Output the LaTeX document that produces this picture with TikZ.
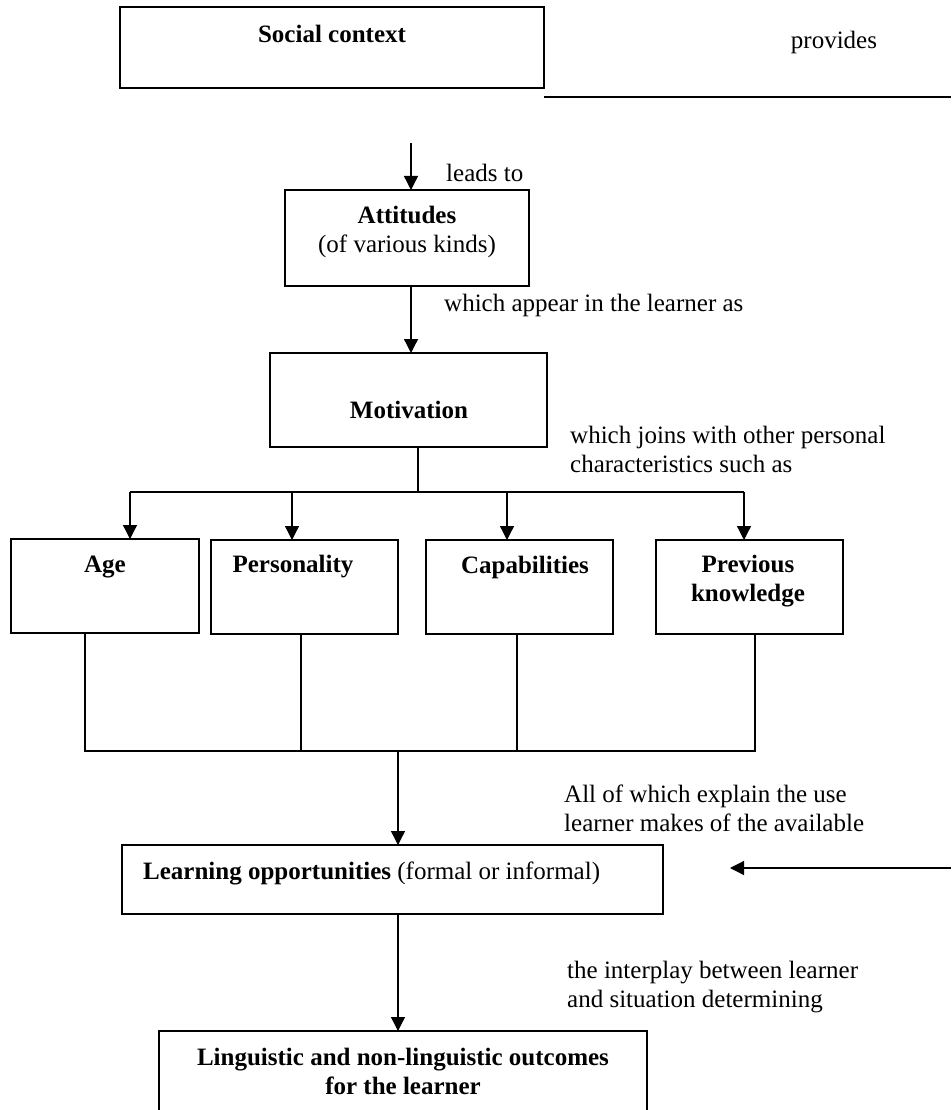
\documentclass[tikz,border=0pt]{standalone}
\usepackage{fontspec}
\setmainfont{Liberation Serif}
\usetikzlibrary{arrows.meta}
\tikzset{
  box/.style={draw, line width=1.3pt, inner sep=0pt, outer sep=0pt, anchor=north west},
  txt/.style={font=\fontsize{25}{29}\selectfont, inner sep=0pt, align=left, anchor=west},
  ctxt/.style={font=\fontsize{25}{29}\selectfont, inner sep=0pt, align=center},
  btxt/.style={font=\fontsize{25}{29}\selectfont\bfseries, inner sep=0pt, align=center},
  arr/.style={-{Triangle[length=14pt,width=14pt]}, line width=1.3pt},
  ln/.style={line width=1.3pt}
}
\begin{document}
\begin{tikzpicture}[x=1pt,y=-1pt]
\useasboundingbox[fill=white] (0,0) rectangle (951,1110);
\clip (0,0) rectangle (951,1110);
% boxes
\node[box, minimum width=424pt, minimum height=81pt] (soc) at (120,7) {};
\node[box, minimum width=244pt, minimum height=96pt] (att) at (285,190) {};
\node[box, minimum width=277pt, minimum height=94pt] (mot) at (270,353) {};
\node[box, minimum width=188pt, minimum height=94pt] (age) at (11,539) {};
\node[box, minimum width=187pt, minimum height=94pt] (per) at (211,540) {};
\node[box, minimum width=187pt, minimum height=94pt] (cap) at (426,540) {};
\node[box, minimum width=187pt, minimum height=94pt] (prev) at (656,540) {};
\node[box, minimum width=541pt, minimum height=69pt] (learn) at (122,845) {};
\node[box, minimum width=488pt, minimum height=110pt] (ling) at (159,1031) {};
% texts
\node[btxt] (tsoc) at (332,34) {Social context};
\node[ctxt] (tprov) at (834,42) {provides};
\node[txt] (tlead) at (446,173) {leads to};
\node[ctxt] (tatt) at (407,232) {\textbf{Attitudes}\\(of various kinds)};
\node[txt] (tapp) at (444,305) {which appear in the learner as};
\node[btxt] (tmot) at (409,410) {Motivation};
\node[txt] (tjoin) at (570,449.5) {which joins with other personal\\characteristics such as};
\node[btxt] (tage) at (105,567) {Age};
\node[btxt] (tper) at (293,567) {Personality};
\node[btxt] (tcap) at (525,567) {Capabilities};
\node[btxt] (tprev) at (748,581.5) {Previous\\knowledge};
\node[txt] (tall) at (564,808) {All of which explain the use\\learner makes of the available};
\node[txt] (tlearn) at (143,873) {\textbf{Learning opportunities} (formal or informal)};
\node[txt] (tinter) at (567,987) {the interplay between learner\\and situation determining};
\node[btxt] (tling) at (403,1071.5) {Linguistic and non-linguistic outcomes\\for the learner};
% top line
\coordinate (pl) at (544,97);
\coordinate (pr) at (951,97);
\coordinate (pm1) at (883,97);
\coordinate (pm2) at (907,97);
\draw[ln] (pl) -- (pr);
\draw[line width=2pt] (pm1) -- (pm2);
% arrows down the middle
\coordinate (a0) at (411,143);
\draw[arr] (a0) -- (a0 |- att.north);
\draw[arr] (a0 |- att.south) -- (a0 |- mot.north);
\coordinate (j1) at (418,492);
\draw[ln] (j1 |- mot.south) -- (j1);
\coordinate (bl) at (130,492);
\coordinate (br) at (744,492);
\coordinate (bp) at (292,492);
\coordinate (bc) at (507,492);
\draw[ln] (bl) -- (br);
\draw[arr] (bl) -- (bl |- age.north);
\draw[arr] (bp) -- (bp |- per.north);
\draw[arr] (bc) -- (bc |- cap.north);
\draw[arr] (br) -- (br |- prev.north);
% bottom collector
\coordinate (c1) at (85,751);
\coordinate (c2) at (301,751);
\coordinate (c3) at (517,751);
\coordinate (c4) at (755,751);
\draw[ln] (c1 |- age.south) -- (c1) -- (c4) -- (c4 |- prev.south);
\draw[ln] (c2 |- per.south) -- (c2);
\draw[ln] (c3 |- cap.south) -- (c3);
\coordinate (m1) at (398,751);
\draw[arr] (m1) -- (m1 |- learn.north);
% right arrow
\coordinate (rr) at (951,868);
\coordinate (rl) at (730,868);
\draw[arr] (rr) -- (rl);
% learn to ling
\draw[arr] (m1 |- learn.south) -- (m1 |- ling.north);
\end{tikzpicture}
\end{document}
